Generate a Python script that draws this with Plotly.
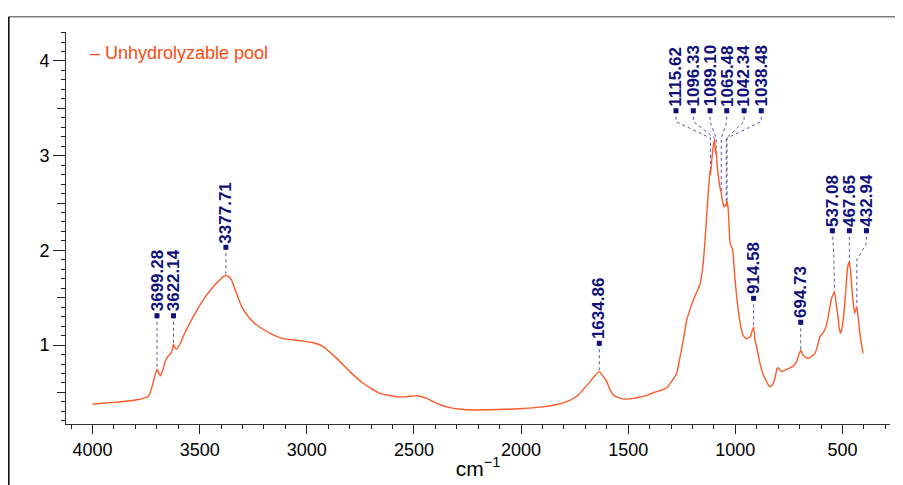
import numpy as np
import plotly.graph_objects as go

# ---------------- data ----------------
wavenumber = [4000, 3900, 3800, 3760, 3740, 3732, 3718, 3699.28, 3690, 3683, 3672, 3662, 3647, 3636,
              3628, 3622.14, 3615, 3608, 3590, 3577, 3530, 3484, 3437, 3410, 3392, 3377.71, 3363, 3351, 3328, 3304,
              3273, 3234, 3172, 3110, 3032, 2970, 2923, 2861, 2799, 2737, 2659, 2581, 2530, 2487,
              2441, 2379, 2332, 2280, 2223, 2150, 2067, 1990, 1912, 1850, 1803, 1770, 1740, 1710,
              1678, 1655, 1634.86, 1620, 1600, 1585, 1569, 1540, 1507, 1470, 1445, 1410, 1398, 1383,
              1350, 1320, 1290, 1274, 1260, 1243, 1227, 1211, 1196, 1180, 1165, 1150, 1140, 1133,
              1125, 1118, 1115.62, 1110, 1105, 1100, 1096.33, 1092, 1089.10, 1085, 1078, 1072, 1065.48,
              1058, 1053, 1046, 1042.34, 1038.48, 1033, 1028, 1025, 1018, 1012, 1005, 1001, 993, 986,
              975, 963, 950, 939, 928, 923, 914.58, 908, 900, 885, 870, 853, 846, 838, 830, 823, 815,
              805, 799, 790, 781, 776, 760, 745, 729, 715, 706, 694.73, 685, 675, 665, 659, 645, 628,
              615, 605, 590, 577, 568, 561, 550, 537.08, 530, 521, 515, 509, 502, 495, 488, 482, 476,
              467.65, 462, 458, 450, 443, 432.94, 427, 420, 412, 404]
absorbance = [0.378, 0.395, 0.42, 0.44, 0.46, 0.49, 0.60, 0.745, 0.70, 0.677, 0.74, 0.82, 0.885, 0.906,
              0.95, 1.008, 0.97, 0.959, 1.02, 1.09, 1.30, 1.476, 1.617, 1.68, 1.72, 1.735, 1.72, 1.687, 1.547, 1.406,
              1.30, 1.212, 1.125, 1.068, 1.046, 1.025, 0.983, 0.86, 0.72, 0.597, 0.49, 0.455, 0.455, 0.466,
              0.438, 0.37, 0.34, 0.322, 0.315, 0.318, 0.322, 0.33, 0.345, 0.365, 0.39, 0.42, 0.46, 0.53,
              0.614, 0.68, 0.72, 0.68, 0.614, 0.53, 0.473, 0.44, 0.43, 0.44, 0.452, 0.47, 0.484, 0.497,
              0.52, 0.55, 0.64, 0.70, 0.85, 1.05, 1.265, 1.38, 1.476, 1.56, 1.64, 1.864, 2.15, 2.39,
              2.65, 2.85, 2.80, 2.95, 3.06, 3.14, 3.17, 3.02, 3.06, 2.90, 2.76, 2.67, 2.60,
              2.50, 2.46, 2.48, 2.47, 2.52, 2.43, 2.20, 2.08, 2.04, 2.0, 1.80, 1.687, 1.50, 1.37,
              1.20, 1.10, 1.07, 1.075, 1.10, 1.14, 1.19, 1.05, 0.98, 0.81, 0.69, 0.61, 0.579, 0.56, 0.57, 0.597, 0.65,
              0.755, 0.76, 0.735, 0.72, 0.725, 0.745, 0.76, 0.78, 0.82, 0.877, 0.948, 0.90, 0.877, 0.86, 0.86, 0.88, 0.913,
              1.0, 1.089, 1.13, 1.194, 1.28, 1.37, 1.50, 1.56, 1.45, 1.30, 1.18, 1.125, 1.18, 1.30, 1.47, 1.653, 1.82,
              1.88, 1.78, 1.653, 1.45, 1.336, 1.406, 1.30, 1.15, 1.02, 0.913]

series_name = "Unhydrolyzable pool"
peak_positions = [3699.28, 3622.14, 3377.71, 1634.86, 1115.62, 1096.33, 1089.10, 1065.48,
                  1042.34, 1038.48, 914.58, 694.73, 537.08, 467.65, 432.94]

x_ticks = [4000, 3500, 3000, 2500, 2000, 1500, 1000, 500]
y_ticks = [1, 2, 3, 4]
y_half_ticks = [0.5, 1.5, 2.5, 3.5]

# ---------------- layout constants (label placement, not data) ----------------
label_layout = {
    3699.28: dict(mx=3699.28, my=1.31, bends=[]),
    3622.14: dict(mx=3622.14, my=1.31, bends=[]),
    3377.71: dict(mx=3377.71, my=2.033, bends=[]),
    1634.86: dict(mx=1634.86, my=1.019, bends=[]),
    1115.62: dict(mx=1277, my=3.475, bends=[(1277, 3.36), (1115.62, 3.185)]),
    1096.33: dict(mx=1196, my=3.475, bends=[(1196, 3.36), (1096.33, 3.185)]),
    1089.10: dict(mx=1118, my=3.475, bends=[(1118, 3.36), (1089.10, 3.185)]),
    1065.48: dict(mx=1040, my=3.475, bends=[(1040, 3.36), (1065.48, 3.185)]),
    1042.34: dict(mx=959, my=3.475, bends=[(959, 3.36), (1042.34, 3.185)]),
    1038.48: dict(mx=879, my=3.475, bends=[(879, 3.36), (1038.48, 3.185)]),
    914.58: dict(mx=914.58, my=1.494, bends=[]),
    694.73: dict(mx=694.73, my=1.241, bends=[]),
    537.08: dict(mx=547, my=2.208, bends=[(540, 1.93)]),
    467.65: dict(mx=467.65, my=2.208, bends=[]),
    432.94: dict(mx=388, my=2.208, bends=[(388, 2.075), (432.94, 1.90)]),
}

LINE_COLOR = "#FF5A28"
LABEL_COLOR = "#10107A"
LEADER_COLOR = "rgba(40,40,150,0.8)"
FONT = "Liberation Sans, Arial, sans-serif"

wn = np.array(wavenumber)
ab = np.array(absorbance)
order = np.argsort(wn)

fig = go.Figure()

# leader lines
for p in peak_positions:
    L = label_layout[p]
    py = float(np.interp(p, wn[order], ab[order]))
    xs = [L["mx"]] + [b[0] for b in L["bends"]] + [p]
    ys = [L["my"]] + [b[1] for b in L["bends"]] + [py]
    fig.add_trace(go.Scatter(x=xs, y=ys, mode="lines",
                             line=dict(color=LEADER_COLOR, width=1, dash="dot"),
                             hoverinfo="skip", showlegend=False))

# spectrum
fig.add_trace(go.Scatter(x=wavenumber, y=absorbance, mode="lines", name=series_name,
                         line=dict(color=LINE_COLOR, width=1.4, shape="spline", smoothing=0.4),
                         showlegend=False))

# label markers
fig.add_trace(go.Scatter(x=[label_layout[p]["mx"] for p in peak_positions],
                         y=[label_layout[p]["my"] for p in peak_positions],
                         mode="markers", marker=dict(symbol="square", size=5, color=LABEL_COLOR),
                         hoverinfo="skip", showlegend=False))

# invisible trace on the overlay axis (carries the half-unit ticks)
fig.add_trace(go.Scatter(x=wavenumber, y=absorbance, yaxis="y2", mode="lines",
                         line=dict(width=0), opacity=0, hoverinfo="skip", showlegend=False))

annotations = []
for p in peak_positions:
    L = label_layout[p]
    annotations.append(dict(x=L["mx"], y=L["my"], xref="x", yref="y",
                            text="<b>%.2f</b>" % p, textangle=-90, showarrow=False,
                            xanchor="center", yanchor="bottom", yshift=3, borderpad=0,
                            font=dict(family=FONT, size=17, color=LABEL_COLOR)))

# legend-like label
annotations.append(dict(x=0.027, y=0.946, xref="paper", yref="paper", showarrow=False,
                        xanchor="left", yanchor="middle",
                        text="\u2013 " + series_name,
                        font=dict(family=FONT, size=18, color="#FF4A10")))

XR = [4124, 278]
YR = [0.167, 4.306]

# the page body adds an 8px offset, so the figure is 8px smaller than the window
fig.update_layout(
    width=895, height=477,
    margin=dict(l=58, r=13, t=24, b=61, autoexpand=False),
    paper_bgcolor="white", plot_bgcolor="white",
    font=dict(family=FONT, size=18, color="black"),
    showlegend=False,
    annotations=annotations,
    xaxis=dict(range=XR, tickvals=x_ticks, ticks="outside", ticklen=9, tickwidth=1,
               tickcolor="#222", showline=True, linecolor="#333", linewidth=1,
               showgrid=False, zeroline=False, mirror=False, automargin=False,
               minor=dict(dtick=100, ticks="outside", ticklen=4, tickcolor="#222", showgrid=False),
               tickfont=dict(size=18, color="black"),
               title=dict(text="cm<sup>\u22121</sup>", font=dict(size=21, color="black"), standoff=2)),
    yaxis=dict(range=YR, tickvals=y_ticks,
               ticks="outside", ticklen=12, tickwidth=1, tickcolor="#222",
               showline=True, linecolor="#333", linewidth=1, showgrid=False, zeroline=False,
               automargin=False,
               minor=dict(dtick=0.1, ticks="outside", ticklen=4, tickcolor="#222", showgrid=False),
               tickfont=dict(size=18, color="black")),
    yaxis2=dict(range=YR, overlaying="y", side="left", tickvals=y_half_ticks, ticks="outside",
                ticklen=8, tickwidth=1, tickcolor="#222", showticklabels=False,
                showline=False, showgrid=False, zeroline=False, automargin=False),
    shapes=[
        dict(type="line", xref="paper", yref="paper", x0=-0.0694, x1=1.03, y0=1.039, y1=1.039,
             line=dict(color="#7a7a7a", width=1.5)),
        dict(type="line", xref="paper", yref="paper", x0=-0.0694, x1=-0.0694, y0=1.039, y1=-0.2,
             line=dict(color="black", width=1.5)),
    ],
)

fig.write_html("out.html")
